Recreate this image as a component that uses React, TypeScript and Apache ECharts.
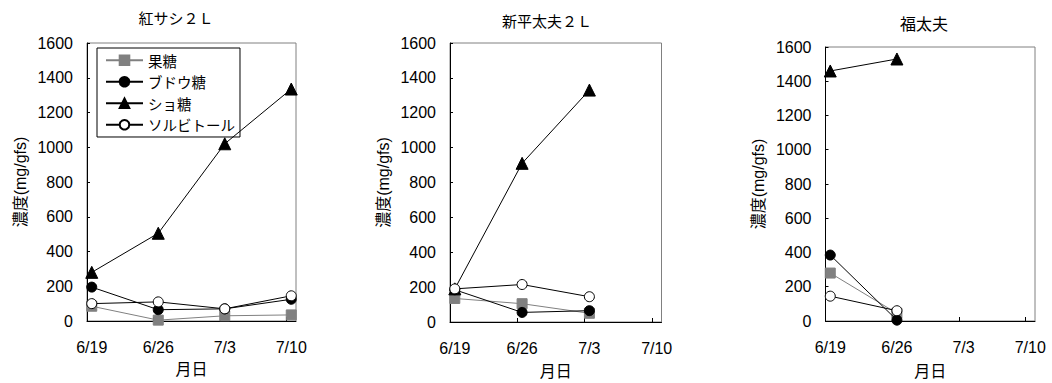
import React, { useEffect, useRef } from "react";
import * as echarts from "echarts";

// ---- data ----
const panelTitles = ["紅サシ２Ｌ", "新平太夫２Ｌ", "福太夫"];
const seriesNames = ["果糖", "ブドウ糖", "ショ糖", "ソルビトール"];
const tickLabels = ["6/19", "6/26", "7/3", "7/10"];
const tickDays = [0, 7, 14, 21]; // days after 6/19
const sampleDays = [0, 7, 14, 21];
const sampleTimeOfDay = 0.5; // sampled at noon

// 紅サシ2L
const benisashiFructose = [85, 5, 30, 35];
const benisashiGlucose = [195, 65, 70, 125];
const benisashiSucrose = [280, 505, 1020, 1335];
const benisashiSorbitol = [100, 110, 70, 145];

// 新平太夫2L
const shinheidayuFructose = [135, 105, 50];
const shinheidayuGlucose = [185, 55, 65];
const shinheidayuSucrose = [190, 910, 1330];
const shinheidayuSorbitol = [190, 215, 145];

// 福太夫
const fukudayuFructose = [280, 45];
const fukudayuGlucose = [385, 5];
const fukudayuSucrose = [1460, 1530];
const fukudayuSorbitol = [145, 60];

const panelData = [
  [benisashiFructose, benisashiGlucose, benisashiSucrose, benisashiSorbitol],
  [shinheidayuFructose, shinheidayuGlucose, shinheidayuSucrose, shinheidayuSorbitol],
  [fukudayuFructose, fukudayuGlucose, fukudayuSucrose, fukudayuSorbitol],
];

// ---- layout / style ----
const NUM_FONT = "'Liberation Sans', Arial, 'Noto Sans CJK JP', sans-serif";
const JP_FONT = "'Noto Sans CJK JP', 'Liberation Sans', sans-serif";

const grids = [
  { left: 87, top: 43, width: 209, height: 278 },
  { left: 450, top: 43, width: 211.5, height: 279 },
  { left: 825.5, top: 47, width: 209.5, height: 276.3 },
];
const titlePos = [
  { x: 176, y: 17.5 },
  { x: 547, y: 20 },
  { x: 924, y: 23.3 },
];
const titleSizes = [15, 15, 16];
const xNameGaps = [38, 40, 41];

const seriesStyles = [
  { symbol: "rect", size: 10, color: "#808080", fill: "#808080", border: "#808080" },
  { symbol: "circle", size: 10, color: "#000", fill: "#000", border: "#000" },
  { symbol: "triangle", size: 12, color: "#000", fill: "#000", border: "#000" },
  { symbol: "circle", size: 10, color: "#000", fill: "#fff", border: "#000" },
];

export default function App() {
  const ref = useRef<HTMLDivElement>(null);
  useEffect(() => {
    if (!ref.current) return;
    const chart = echarts.init(ref.current, undefined, { renderer: "svg" });

    const series: any[] = [];
    panelData.forEach((panel, p) => {
      panel.forEach((vals, s) => {
        const st = seriesStyles[s];
        series.push({
          type: "line",
          name: seriesNames[s],
          xAxisIndex: p,
          yAxisIndex: p,
          symbol: st.symbol,
          symbolSize: st.size,
          showAllSymbol: true,
          lineStyle: { color: st.color, width: 1 },
          itemStyle: { color: st.fill, borderColor: st.border, borderWidth: 1, opacity: 1 },
          emphasis: { disabled: true },
          data: vals.map((v, i) => [sampleDays[i] + sampleTimeOfDay, v]),
          z: 2 + s,
        });
      });
    });

    const xAxes = grids.map((_, p) => ({
      type: "value",
      gridIndex: p,
      min: 0,
      max: 22,
      splitLine: { show: false },
      axisLine: { show: true, onZero: false, lineStyle: { color: "#000", width: 1 } },
      axisTick: {
        show: true,
        inside: true,
        length: 4,
        customValues: tickDays,
        lineStyle: { color: "#000" },
      },
      axisLabel: {
        customValues: tickDays.map((d) => d + sampleTimeOfDay),
        formatter: (v: number) => {
          const idx = tickDays.indexOf(Math.round(v - sampleTimeOfDay));
          return idx >= 0 ? tickLabels[idx] : "";
        },
        margin: 18,
        fontSize: 16,
        fontFamily: NUM_FONT,
        color: "#000",
      },
      name: "月日",
      nameLocation: "middle",
      nameGap: xNameGaps[p],
      nameTextStyle: { fontSize: 16, fontFamily: JP_FONT, color: "#000" },
    }));

    const yAxes = grids.map((_, p) => ({
      type: "value",
      gridIndex: p,
      min: 0,
      max: 1600,
      interval: 200,
      splitLine: { show: false },
      axisLine: { show: true, onZero: false, lineStyle: { color: "#000", width: 1 } },
      axisTick: { show: true, inside: true, length: 3, lineStyle: { color: "#000" } },
      axisLabel: {
        margin: 14,
        fontSize: 16,
        fontFamily: NUM_FONT,
        color: "#000",
        formatter: (v: number) => String(v),
      },
      name: "濃度(mg/gfs)",
      nameLocation: "middle",
      nameGap: 59,
      nameTextStyle: { fontSize: 16, fontFamily: NUM_FONT, color: "#000" },
    }));

    chart.setOption({
      animation: false,
      backgroundColor: "#fff",
      grid: grids.map((g) => ({
        ...g,
        show: true,
        borderColor: "#808080",
        borderWidth: 1,
        backgroundColor: "transparent",
        containLabel: false,
      })),
      xAxis: xAxes,
      yAxis: yAxes,
      legend: {
        data: seriesNames,
        orient: "vertical",
        left: 97,
        top: 48,
        padding: [5, 5, 5, 8],
        itemWidth: 37,
        itemHeight: 12,
        itemGap: 7,
        borderColor: "#000",
        borderWidth: 1,
        backgroundColor: "#fff",
        selectedMode: false,
        textStyle: { fontSize: 14.5, fontFamily: JP_FONT, color: "#000" },
      },
      graphic: panelTitles.map((t, i) => ({
        type: "text",
        x: titlePos[i].x,
        y: titlePos[i].y,
        style: {
          text: t,
          align: "center",
          verticalAlign: "middle",
          fontSize: titleSizes[i],
          fontFamily: JP_FONT,
          fill: "#000",
        },
      })),
      series,
    });

    return () => chart.dispose();
  }, []);

  return (
    <div
      ref={ref}
      style={{ position: "absolute", left: 0, top: 0, width: 1052, height: 383 }}
    />
  );
}
